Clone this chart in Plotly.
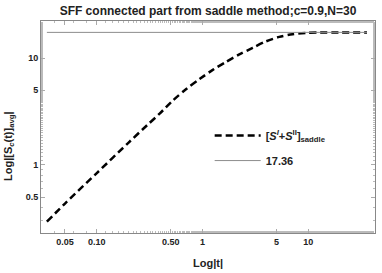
import plotly.graph_objects as go

t_vals = [0.0337, 0.05, 0.1, 0.2, 0.3, 0.393, 0.525, 0.702, 0.937, 1.25, 1.67, 2.23,
          2.98, 3.99, 5.33, 7.11, 9.51, 12.7, 20.0, 36.0]
s_saddle = [0.295, 0.436, 0.84, 1.62, 2.36, 3.02, 4.01, 5.13, 6.35, 7.74, 9.2, 10.8,
            12.45, 14.3, 15.75, 16.7, 17.15, 17.32, 17.36, 17.36]
plateau_t = [0.0337, 36.0]
plateau_val = [17.36, 17.36]

x_tickvals = [0.05, 0.1, 0.5, 1, 5, 10]
x_ticktext = ["0.05", "0.10", "0.50", "1", "5", "10"]
y_tickvals = [0.5, 1, 5, 10]
y_ticktext = ["0.5", "1", "5", "10"]

FONT = "Liberation Sans, Arial"
TXT = "#222222"

fig = go.Figure()
fig.add_trace(go.Scatter(
    x=t_vals, y=s_saddle, mode="lines", legendgroup="a",
    line=dict(color="black", width=2.5, dash="7px,4px", shape="spline", smoothing=0.8),
    name="<b>[<i>S</i><sup><i>I</i></sup>+<i>S</i><sup>II</sup>]<sub>saddle</sub></b>",
))
fig.add_trace(go.Scatter(
    x=plateau_t, y=plateau_val, mode="lines", legendgroup="b",
    line=dict(color="#8c8c8c", width=1),
    name="<b>17.36</b>",
))

axis_common = dict(
    type="log", showline=True, linecolor="#888888", linewidth=1, mirror="ticks",
    ticks="inside", ticklen=4, tickcolor="#aaaaaa", showgrid=False, zeroline=False,
    automargin=False,
    tickfont=dict(family=FONT, size=9, color=TXT, weight="bold"),
    minor=dict(ticks="inside", ticklen=2, tickcolor="#bbbbbb", showgrid=False),
)

fig.update_layout(
    width=382, height=273,
    margin=dict(l=41, r=7, t=21, b=40),
    paper_bgcolor="white", plot_bgcolor="white",
    title=dict(text="<b>SFF connected part from saddle method;c=0.9,N=30</b>",
               x=208 / 382, xanchor="center", y=1 - 11 / 273, yanchor="middle",
               font=dict(family=FONT, size=12, color=TXT)),
    xaxis=dict(axis_common, range=[-1.528, 1.632], tickvals=x_tickvals, ticktext=x_ticktext),
    yaxis=dict(axis_common, range=[-0.636, 1.346], tickvals=y_tickvals, ticktext=y_ticktext),
    legend=dict(x=0.505, y=0.528, xanchor="left", yanchor="top", bgcolor="rgba(0,0,0,0)",
                itemwidth=46, traceorder="grouped", tracegroupgap=6,
                font=dict(family=FONT, size=11, color=TXT)),
    showlegend=True,
    annotations=[
        dict(text="<b>Log|t|</b>", xref="paper", yref="paper",
             x=(208 - 41) / 334, y=-30 / 212, xanchor="center", yanchor="middle",
             showarrow=False, font=dict(family=FONT, size=11, color=TXT)),
        dict(text="<b>Log|[S<sub><i>c</i></sub>(t)]<sub>avg</sub>|</b>", xref="paper", yref="paper",
             x=(9 - 41) / 334, y=(233 - 146) / 212, xanchor="center", yanchor="middle",
             textangle=-90, showarrow=False, font=dict(family=FONT, size=11, color=TXT)),
    ],
)

fig.write_html("out.html", config={"displayModeBar": False},
               post_script="document.body.style.margin='0';document.body.style.overflow='hidden';")
